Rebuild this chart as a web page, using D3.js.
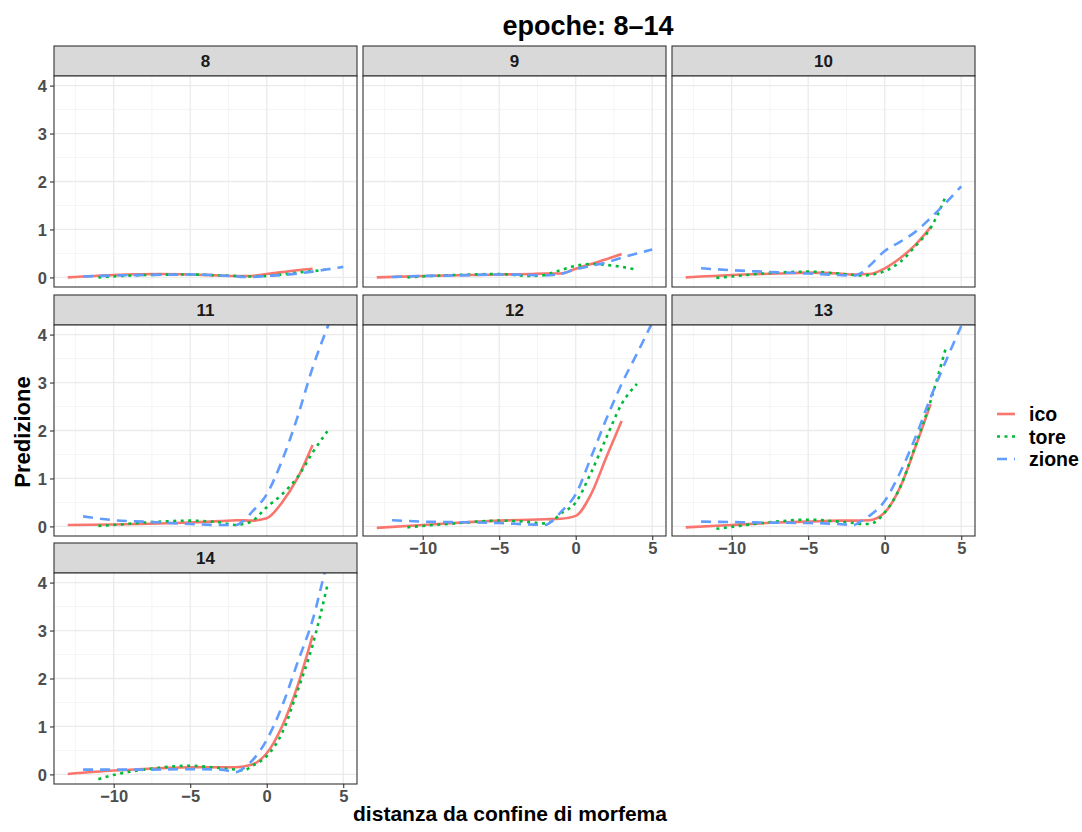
<!DOCTYPE html>
<html>
<head>
<meta charset="utf-8">
<script src="https://cdn.jsdelivr.net/npm/d3@7"></script>
<style>
  body { margin: 0; background: #fff; }
  svg { font-family: "Liberation Sans", Arial, sans-serif; }
</style>
</head>
<body>
<div id="chart"></div>
<script>
// epoche (pannelli)
const epochs = [8, 9, 10, 11, 12, 13, 14];
const seriesNames = ["ico", "tore", "zione"];

// ascisse dei punti per ogni serie
const xIco = [-13, -10, -7, -5, -3, -2, -1, 0, 1, 2, 3];
const xTore = [-11, -10, -8, -5, -3, -2, -1.5, -1, 0, 1, 2, 3, 4];
const xZione = [-12, -10, -8, -5, -3, -2, -1.5, -1, 0, 1, 2, 3, 4, 5];

// valori, una riga per epoca (8..14)
const icoVals = [
  [0, 0.05, 0.07, 0.06, 0.04, 0.03, 0.03, 0.07, 0.11, 0.15, 0.18],
  [0, 0.03, 0.05, 0.06, 0.07, 0.08, 0.08, 0.18, 0.28, 0.38, 0.49],
  [0, 0.05, 0.08, 0.1, 0.08, 0.06, 0.07, 0.19, 0.4, 0.68, 1.05],
  [0.03, 0.04, 0.06, 0.08, 0.11, 0.13, 0.12, 0.17, 0.5, 1.0, 1.7],
  [-0.03, 0.03, 0.09, 0.12, 0.14, 0.15, 0.16, 0.22, 0.67, 1.44, 2.2],
  [-0.02, 0.03, 0.08, 0.1, 0.12, 0.12, 0.13, 0.29, 0.81, 1.65, 2.55],
  [0.01, 0.08, 0.13, 0.15, 0.15, 0.15, 0.2, 0.44, 1.0, 1.83, 2.9]
];
const toreVals = [
  [0, 0.02, 0.05, 0.06, 0.04, 0.03, 0.02, 0.02, 0.03, 0.06, 0.1, 0.13, 0.17],
  [0, 0.02, 0.05, 0.07, 0.03, 0.05, 0.1, 0.15, 0.24, 0.28, 0.26, 0.22, 0.16],
  [-0.01, 0.02, 0.08, 0.12, 0.08, 0.05, 0.04, 0.05, 0.13, 0.32, 0.65, 1.03, 1.7],
  [0.01, 0.03, 0.08, 0.12, 0.08, 0.03, 0.05, 0.1, 0.4, 0.67, 1.02, 1.54, 2.0],
  [-0.02, 0.01, 0.06, 0.12, 0.09, 0.06, 0.12, 0.26, 0.5, 1.12, 1.85, 2.55, 2.97],
  [-0.05, -0.01, 0.07, 0.14, 0.1, 0.07, 0.05, 0.05, 0.29, 0.81, 1.68, 2.62, 3.73],
  [-0.1, -0.01, 0.1, 0.18, 0.13, 0.1, 0.08, 0.17, 0.38, 0.86, 1.73, 2.7, 3.99]
];
const zioneVals = [
  [0.02, 0.04, 0.05, 0.06, 0.04, 0.02, 0.01, 0.01, 0.03, 0.05, 0.08, 0.12, 0.17, 0.22],
  [0.01, 0.03, 0.04, 0.06, 0.05, 0.04, 0.05, 0.07, 0.17, 0.24, 0.31, 0.41, 0.5, 0.58],
  [0.19, 0.15, 0.12, 0.08, 0.05, 0.04, 0.1, 0.24, 0.55, 0.74, 0.95, 1.24, 1.56, 1.9],
  [0.21, 0.13, 0.1, 0.05, 0.03, 0.03, 0.12, 0.29, 0.67, 1.37, 2.27, 3.31, 4.18, 5.0],
  [0.13, 0.1, 0.09, 0.07, 0.04, 0.03, 0.12, 0.29, 0.67, 1.44, 2.24, 2.97, 3.6, 4.25],
  [0.1, 0.09, 0.08, 0.07, 0.05, 0.03, 0.12, 0.22, 0.53, 1.12, 1.85, 2.69, 3.45, 4.18],
  [0.1, 0.1, 0.1, 0.11, 0.1, 0.05, 0.13, 0.27, 0.72, 1.42, 2.32, 3.22, 4.45, 5.3]
];

const xTicks = [-10, -5, 0, 5];
const yTicks = [0, 1, 2, 3, 4];

// stile delle serie
const colors = { ico: "#F8766D", tore: "#00BA38", zione: "#619CFF" };
const dashes = { ico: null, tore: "3,4.5", zione: "10,7" };

const W = 1082, H = 832;
const panelW = 303, stripH = 30, plotH = 211;
const colX = [54, 363, 672];
const rowY = [46, 295, 543];
const tickFont = 16.5;

const svg = d3.select("#chart").append("svg")
  .attr("width", W).attr("height", H);

const x = d3.scaleLinear().domain([-13.9, 5.9]).range([0, panelW]);
const y = d3.scaleLinear().domain([-0.2, 4.2]).range([plotH, 0]);

const line = d3.line()
  .x(d => x(d[0]))
  .y(d => y(d[1]))
  .curve(d3.curveMonotoneX);

const seriesX = { ico: xIco, tore: xTore, zione: xZione };
const seriesVals = { ico: icoVals, tore: toreVals, zione: zioneVals };

epochs.forEach((ep, i) => {
  const col = i % 3, row = Math.floor(i / 3);
  const g = svg.append("g")
    .attr("transform", `translate(${colX[col]},${rowY[row]})`);

  // striscia
  g.append("rect")
    .attr("width", panelW).attr("height", stripH)
    .attr("fill", "#D9D9D9").attr("stroke", "#333333").attr("stroke-width", 1.1);
  g.append("text")
    .attr("x", panelW / 2).attr("y", stripH / 2 + 6)
    .attr("text-anchor", "middle")
    .attr("font-size", 17).attr("font-weight", "bold").attr("fill", "#1A1A1A")
    .text(ep);

  const p = g.append("g").attr("transform", `translate(0,${stripH})`);
  p.append("rect").attr("width", panelW).attr("height", plotH).attr("fill", "#fff");

  // griglia minore
  const minorX = d3.range(-12.5, 6, 5);
  const minorY = d3.range(0.5, 4.2, 1);
  p.selectAll(".mx").data(minorX).enter().append("line")
    .attr("x1", d => x(d)).attr("x2", d => x(d)).attr("y1", 0).attr("y2", plotH)
    .attr("stroke", "#F2F2F2").attr("stroke-width", 0.8);
  p.selectAll(".my").data(minorY).enter().append("line")
    .attr("y1", d => y(d)).attr("y2", d => y(d)).attr("x1", 0).attr("x2", panelW)
    .attr("stroke", "#F2F2F2").attr("stroke-width", 0.8);
  // griglia maggiore
  p.selectAll(".gx").data(xTicks).enter().append("line")
    .attr("x1", d => x(d)).attr("x2", d => x(d)).attr("y1", 0).attr("y2", plotH)
    .attr("stroke", "#EBEBEB").attr("stroke-width", 1.3);
  p.selectAll(".gy").data(yTicks).enter().append("line")
    .attr("y1", d => y(d)).attr("y2", d => y(d)).attr("x1", 0).attr("x2", panelW)
    .attr("stroke", "#EBEBEB").attr("stroke-width", 1.3);

  // linee
  const clipId = "clip" + ep;
  p.append("clipPath").attr("id", clipId)
    .append("rect").attr("width", panelW).attr("height", plotH);
  const lines = p.append("g").attr("clip-path", `url(#${clipId})`);
  seriesNames.forEach(s => {
    const pts = seriesX[s].map((xv, k) => [xv, seriesVals[s][i][k]]);
    lines.append("path")
      .datum(pts)
      .attr("d", line)
      .attr("fill", "none")
      .attr("stroke", colors[s])
      .attr("stroke-width", 2.6)
      .attr("stroke-dasharray", dashes[s]);
  });

  p.append("rect").attr("width", panelW).attr("height", plotH)
    .attr("fill", "none").attr("stroke", "#333333").attr("stroke-width", 1.1);

  // assi
  if (col === 0) {
    const ax = p.append("g").call(d3.axisLeft(y).tickValues(yTicks).tickSize(4).tickFormat(d3.format("d")));
    ax.select(".domain").remove();
    ax.selectAll("line").attr("stroke", "#333333").attr("stroke-width", 1.1);
    ax.selectAll("text").attr("font-size", tickFont).attr("font-weight", "bold")
      .attr("fill", "#4D4D4D").attr("font-family", "Liberation Sans, Arial, sans-serif")
      .attr("dy", "0.36em").attr("x", -7);
  }
  const isBottom = (i === 6) || (row === 1 && col > 0);
  if (isBottom) {
    const ax = p.append("g").attr("transform", `translate(0,${plotH})`)
      .call(d3.axisBottom(x).tickValues(xTicks).tickSize(4)
        .tickFormat(d => d < 0 ? "\u2212" + Math.abs(d) : d));
    ax.select(".domain").remove();
    ax.selectAll("line").attr("stroke", "#333333").attr("stroke-width", 1.1);
    ax.selectAll("text").attr("font-size", tickFont).attr("font-weight", "bold")
      .attr("fill", "#4D4D4D").attr("font-family", "Liberation Sans, Arial, sans-serif")
      .attr("y", 6);
  }
});

// titoli
svg.append("text").attr("x", 588).attr("y", 35).attr("text-anchor", "middle")
  .attr("font-size", 27).attr("font-weight", "bold").attr("fill", "#000")
  .text("epoche: 8\u201314");
svg.append("text").attr("x", 510).attr("y", 821).attr("text-anchor", "middle")
  .attr("font-size", 21).attr("font-weight", "bold").attr("fill", "#000")
  .text("distanza da confine di morfema");
svg.append("text").attr("transform", "translate(30,432) rotate(-90)")
  .attr("text-anchor", "middle")
  .attr("font-size", 22).attr("font-weight", "bold").attr("fill", "#000")
  .text("Predizione");

// legenda
const legend = svg.append("g").attr("transform", "translate(997,414)");
seriesNames.forEach((s, k) => {
  const lg = legend.append("g").attr("transform", `translate(0,${k * 22.5})`);
  lg.append("line").attr("x1", 0).attr("x2", 18).attr("y1", 0).attr("y2", 0)
    .attr("stroke", colors[s]).attr("stroke-width", 2.6)
    .attr("stroke-dasharray", dashes[s]);
  lg.append("text").attr("x", 32).attr("y", 7)
    .attr("font-size", 19.5).attr("font-weight", "bold").attr("fill", "#000")
    .text(s);
});
</script>
</body>
</html>
